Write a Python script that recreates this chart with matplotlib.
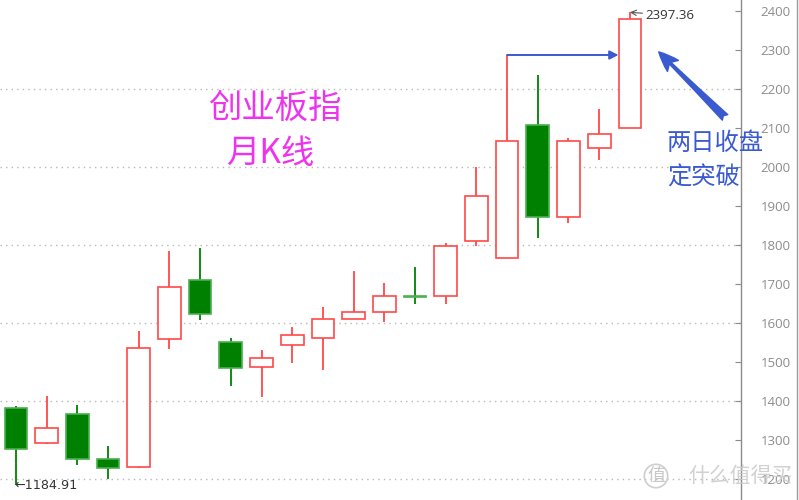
import numpy as np
import matplotlib as mpl
mpl.use("Agg")
import matplotlib.pyplot as plt
from matplotlib.lines import Line2D

plt.rcParams["font.family"] = ["Noto Sans CJK SC", "DejaVu Sans"]

# monthly candles (ChiNext index)
opens  = [1382, 1292, 1367, 1251, 1232, 1559, 1711, 1551, 1489, 1544, 1562,
          1612, 1630, 1669, 1670, 1811, 1767, 2108, 1873, 2050, 2102]
closes = [1277, 1331, 1251, 1228, 1537, 1693, 1624, 1486, 1510, 1570, 1610,
          1628, 1671, 1667, 1798, 1926, 2068, 1873, 2068, 2085, 2380]
highs  = [1389, 1414, 1390, 1285, 1580, 1785, 1792, 1562, 1532, 1591, 1643,
          1734, 1703, 1745, 1805, 2002, 2288, 2237, 2074, 2149, 2397.36]
lows   = [1184.91, 1290, 1237, 1201, 1230, 1535, 1608, 1440, 1412, 1497, 1480,
          1611, 1603, 1649, 1649, 1798, 1767, 1819, 1858, 2020, 2100]
grid_levels = [1200, 1400, 1600, 1800, 2000, 2200]
yticks = list(range(1200, 2401, 100))

RED = "#FF4848"
GREEN = "#008000"
BLUE = "#3A5AD0"

o = np.array(opens, float); c = np.array(closes, float)
h = np.array(highs, float); l = np.array(lows, float)
x = np.arange(len(o))
up = c >= o
top = np.maximum(o, c); bot = np.minimum(o, c)

fig = plt.figure(figsize=(7.99, 5.0), dpi=100)
ax = fig.add_axes([0, 0, 741 / 799, 1])
ax.set_xlim(-0.52, 23.62)
ax.set_ylim(1147, 2429)

# dotted grid
for g in grid_levels:
    ax.axhline(g, color="#b8b8b8", lw=1.0, ls=(0, (1, 3)), zorder=0)

# wicks
ax.vlines(x, top, h, colors=np.where(up, RED, GREEN), lw=1.3, zorder=1)
ax.vlines(x, l, bot, colors=np.where(up, RED, GREEN), lw=1.3, zorder=1)
# bodies
hgt = np.maximum(top - bot, 1.0)
ax.bar(x, hgt, bottom=bot, width=0.74,
       color=np.where(up, "white", GREEN),
       edgecolor=np.where(up, RED, "#4caf50"), linewidth=1.2, zorder=2)

# axis styling: price axis on the right
for s in ["top", "left", "bottom"]:
    ax.spines[s].set_visible(False)
ax.spines["right"].set_color("#8a8a8a")
ax.spines["right"].set_linewidth(1.0)
ax.yaxis.tick_right()
ax.set_yticks(yticks)
ax.tick_params(axis="y", direction="in", length=4, color="#8a8a8a",
               labelcolor="#8c8c8c", labelsize=9.5, pad=14)
ax.set_xticks([])
for lab in ax.get_yticklabels():
    lab.set_family(["Open Sans", "DejaVu Sans"])

# high / low markers
imax = int(np.argmax(h)); imin = int(np.argmin(l))
ax.annotate(f"{h[imax]:.2f}", xy=(imax, h[imax]), xytext=(11, -2),
            textcoords="offset points", ha="left", va="center",
            fontsize=9.5, color="#333333", family=["Open Sans", "DejaVu Sans"],
            arrowprops=dict(arrowstyle="->", color="#555555", lw=0.8,
                            shrinkA=0, shrinkB=0))
ax.annotate(f"\u2190{l[imin]:.2f}", xy=(imin, l[imin]), xytext=(-1, 0),
            textcoords="offset points", ha="left", va="center",
            fontsize=9.2, color="#333333", family=["DejaVu Sans"])

# breakout arrow from the high of the big candle to the last candle
ib = 16
ax.annotate("", xy=(len(o) - 1 - 0.37, h[ib]), xytext=(ib, h[ib]),
            arrowprops=dict(arrowstyle="-|>", color=BLUE, lw=1.4,
                            mutation_scale=13, shrinkA=0, shrinkB=0), zorder=3)

# tapered pointer arrow
ax.annotate("", xy=(20.94, 2296), xytext=(23.1, 2128),
            arrowprops=dict(arrowstyle="fancy,head_length=0.9,head_width=0.7,tail_width=0.35",
                            color=BLUE, mutation_scale=16, shrinkA=0, shrinkB=0))

# texts
fig.text(275 / 799, 1 - 108 / 500, "创业板指", color="#EE33EE", fontsize=24,
         ha="center", va="center")
fig.text(270 / 799, 1 - 153 / 500, "月K线", color="#EE33EE", fontsize=24,
         ha="center", va="center")
fig.text(667 / 799, 1 - 143 / 500, "两日收盘", color=BLUE, fontsize=17.5,
         ha="left", va="center")
fig.text(667 / 799, 1 - 178 / 500, "定突破", color=BLUE, fontsize=17.5,
         ha="left", va="center")

# watermark
fig.text(656 / 799, 1 - 476 / 500, "值", color="#c8c8c8", fontsize=13,
         ha="center", va="center",
         bbox=dict(boxstyle="circle,pad=0.15", fc="none", ec="#cfcfcf", lw=1.2))
fig.text(688 / 799, 1 - 476 / 500, "什么值得买", color="#cccccc", fontsize=15,
         ha="left", va="center", alpha=0.9)

# outer right border
fig.add_artist(Line2D([797 / 799, 797 / 799], [0, 1], color="#9a9a9a", lw=1.0))

fig.savefig("out.png", dpi=100)
